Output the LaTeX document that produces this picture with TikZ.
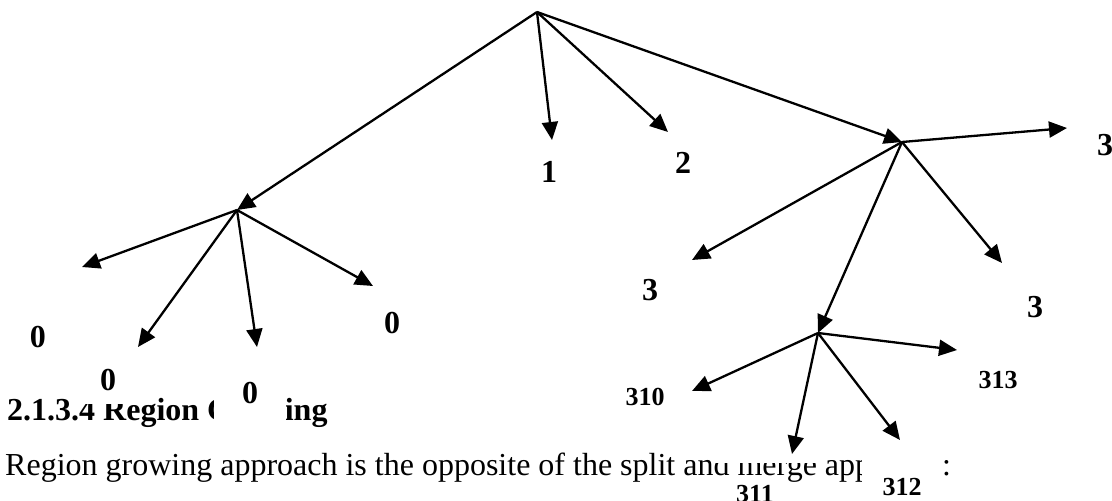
\documentclass[tikz,border=0pt]{standalone}
\usepackage{fontspec}
\setmainfont{Liberation Serif}
\usetikzlibrary{arrows.meta}

\begin{document}
\begin{tikzpicture}[x=1pt,y=-1pt,
  lbl/.style={font=\fontsize{32}{36}\selectfont\bfseries, fill=white, inner sep=2pt},
  sublbl/.style={font=\fontsize{26}{30}\selectfont\bfseries, fill=white, inner sep=2pt},
  arr/.style={-{Triangle[length=18pt,width=16pt]}, line width=2.3pt}]
\useasboundingbox (0,0) rectangle (1112,501);
% page text behind the tree
\node[anchor=base west, inner sep=0, font=\fontsize{32}{36}\selectfont\bfseries] (head) at (7,420) {2.1.3.4 Region Growing};
\node[anchor=base west, inner sep=0, font=\fontsize{32}{36}\selectfont] (body) at (5,475) {Region growing approach is the opposite of the split and merge approach:};
\fill[white] (713,430) rectangle (821,463);
% split points
\coordinate (root) at (537,12);
\coordinate (h0) at (237,210);
\coordinate (h3) at (902,142);
\coordinate (h31) at (818,333);
% arrow ends
\coordinate (t00) at (82,267);
\coordinate (t01) at (138,347);
\coordinate (t02) at (257,347);
\coordinate (t03) at (373,286);
\coordinate (t1) at (552,140);
\coordinate (t2) at (668,132);
\coordinate (t30) at (692,260);
\coordinate (t33) at (1002,263);
\coordinate (t3r) at (1067,128);
\coordinate (t310) at (692,391);
\coordinate (t311) at (792,454);
\coordinate (t312) at (900,440);
\coordinate (t313) at (957,350);
% quadrant labels
\node[lbl] (l00) at (38,337) {0};
\node[lbl, anchor=base, text height=28pt, text depth=14pt, minimum width=60pt, inner sep=0] (l01) at (108,390) {0};
\node[lbl, anchor=base, text height=24pt, text depth=26pt, minimum width=72pt, inner sep=0] (l02) at (250,403) {0};
\node[lbl] (l03) at (392,323) {0};
\node[lbl] (l1) at (549,172) {1};
\node[lbl] (l2) at (683,163) {2};
\node[lbl] (l30) at (650,290) {3};
\node[lbl] (l33) at (1035,307) {3};
\node[lbl] (l3r) at (1105,145) {3};
\node[sublbl] (l310) at (645,397) {310};
\node[sublbl] (l311) at (755,494) {311};
\node[sublbl, anchor=base, text height=55pt, text depth=8pt, minimum width=80pt, inner sep=0] (l312) at (902,495) {312};
\node[sublbl] (l313) at (998,380) {313};
% arrows
\draw[arr] (root) -- (h0);
\draw[arr] (root) -- (t1);
\draw[arr] (root) -- (t2);
\draw[arr] (root) -- (h3);
\draw[arr] (h0) -- (t00);
\draw[arr] (h0) -- (t01);
\draw[arr] (h0) -- (t02);
\draw[arr] (h0) -- (t03);
\draw[arr] (h3) -- (t3r);
\draw[arr] (h3) -- (t30);
\draw[arr] (h3) -- (t33);
\draw[arr] (h3) -- (h31);
\draw[arr] (h31) -- (t310);
\draw[arr] (h31) -- (t311);
\draw[arr] (h31) -- (t312);
\draw[arr] (h31) -- (t313);
\end{tikzpicture}
\end{document}
